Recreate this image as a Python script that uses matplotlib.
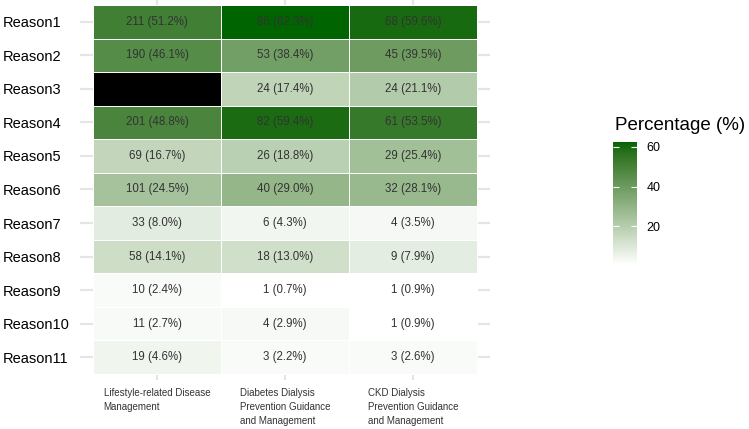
import numpy as np
import matplotlib.pyplot as plt
from matplotlib.colors import ListedColormap, to_rgb

plt.rcParams['font.family'] = ['Liberation Sans', 'DejaVu Sans']

reasons = [f'Reason{i}' for i in range(1, 12)]
programs = ['Lifestyle-related Disease\nManagement',
            'Diabetes Dialysis\nPrevention Guidance\nand Management',
            'CKD Dialysis\nPrevention Guidance\nand Management']

lifestyle_n = [211, 190, None, 201, 69, 101, 33, 58, 10, 11, 19]
lifestyle_pct = [51.2, 46.1, None, 48.8, 16.7, 24.5, 8.0, 14.1, 2.4, 2.7, 4.6]
diabetes_n = [86, 53, 24, 82, 26, 40, 6, 18, 1, 4, 3]
diabetes_pct = [62.3, 38.4, 17.4, 59.4, 18.8, 29.0, 4.3, 13.0, 0.7, 2.9, 2.2]
ckd_n = [68, 45, 24, 61, 29, 32, 4, 9, 1, 1, 3]
ckd_pct = [59.6, 39.5, 21.1, 53.5, 25.4, 28.1, 3.5, 7.9, 0.9, 0.9, 2.6]

counts = [lifestyle_n, diabetes_n, ckd_n]
pcts = [lifestyle_pct, diabetes_pct, ckd_pct]


# white -> darkgreen gradient interpolated in CIELAB (like ggplot's scale_fill_gradient)
def srgb_to_lab(c):
    c = np.asarray(c, float)
    lin = np.where(c <= 0.04045, c / 12.92, ((c + 0.055) / 1.055) ** 2.4)
    M = np.array([[0.4124, 0.3576, 0.1805],
                  [0.2126, 0.7152, 0.0722],
                  [0.0193, 0.1192, 0.9505]])
    xyz = M @ lin / np.array([0.95047, 1.0, 1.08883])
    f = np.where(xyz > 0.008856, np.cbrt(xyz), 7.787 * xyz + 16 / 116)
    return np.array([116 * f[1] - 16, 500 * (f[0] - f[1]), 200 * (f[1] - f[2])])


def lab_to_srgb(lab):
    L, a, b = lab
    fy = (L + 16) / 116
    fx = fy + a / 500
    fz = fy - b / 200
    f = np.array([fx, fy, fz])
    xyz = np.where(f ** 3 > 0.008856, f ** 3, (f - 16 / 116) / 7.787)
    xyz = xyz * np.array([0.95047, 1.0, 1.08883])
    Minv = np.array([[3.2406, -1.5372, -0.4986],
                     [-0.9689, 1.8758, 0.0415],
                     [0.0557, -0.2040, 1.0570]])
    lin = Minv @ xyz
    c = np.where(lin <= 0.0031308, 12.92 * lin, 1.055 * np.clip(lin, 0, None) ** (1 / 2.4) - 0.055)
    return np.clip(c, 0, 1)


lab_lo = srgb_to_lab(to_rgb('white'))
lab_hi = srgb_to_lab(to_rgb('darkgreen'))
cols = [lab_to_srgb(lab_lo + t * (lab_hi - lab_lo)) for t in np.linspace(0, 1, 256)]
cmap = ListedColormap(cols)
cmap.set_bad('black')

Z = np.array([[np.nan if v is None else v for v in col] for col in pcts]).T
Z = np.ma.masked_invalid(Z)
vmin, vmax = np.nanmin(Z), np.nanmax(Z)

W, H = 749, 429
fig = plt.figure(figsize=(W / 100, H / 100), dpi=100)
ax = fig.add_axes([80 / W, 1 - 380 / H, 410 / W, 380 / H])

nr, nc = len(reasons), len(programs)
xe = np.arange(nc + 1) + 0.5
ye = np.arange(nr + 1) + 0.5

# grid lines behind tiles
for i in range(1, nr + 1):
    ax.axhline(i, color='#e5e5e5', lw=1.6, zorder=0)
for j in range(1, nc + 1):
    ax.axvline(j, color='#e5e5e5', lw=1.6, zorder=0)

mesh = ax.pcolormesh(xe, ye, Z, cmap=cmap, vmin=vmin, vmax=vmax,
                     edgecolors='white', linewidth=0.4, zorder=1)

for j in range(nc):
    for i in range(nr):
        if counts[j][i] is None:
            continue
        ax.text(j + 1, i + 1, f'{counts[j][i]} ({pcts[j][i]:.1f}%)',
                ha='center', va='center', fontsize=8.3, color='#333333', zorder=2)

ax.set_xlim(0.5 - 13 / 128, 3.5 + 13 / 128)
ax.set_ylim(11.5 + 6 / 33.5, 0.5 - 5 / 33.5)

ax.set_yticks(range(1, nr + 1))
ax.set_yticklabels(reasons, fontsize=10.5, color='black')
for lab in ax.get_yticklabels():
    lab.set_horizontalalignment('left')
ax.tick_params(axis='y', length=0, pad=77 * 0.72)

ax.set_xticks(range(1, nc + 1))
ax.set_xticklabels(programs, fontsize=7, color='#333333', linespacing=1.5,
                   multialignment='left', va='top')
ax.tick_params(axis='x', length=0, pad=5.5)

for s in ax.spines.values():
    s.set_visible(False)

cax = fig.add_axes([613 / W, 1 - 265 / H, 24 / W, 123 / H])
cb = fig.colorbar(mesh, cax=cax, ticks=[20, 40, 60])
cb.outline.set_visible(False)
cax.tick_params(direction='in', color='white', length=4.5, width=0.8,
                left=True, right=True, labelsize=9, pad=7)
fig.text(615 / W, 1 - 125 / H, 'Percentage (%)', fontsize=13.5,
         ha='left', va='center', color='black')

fig.savefig('out.png', dpi=100)
